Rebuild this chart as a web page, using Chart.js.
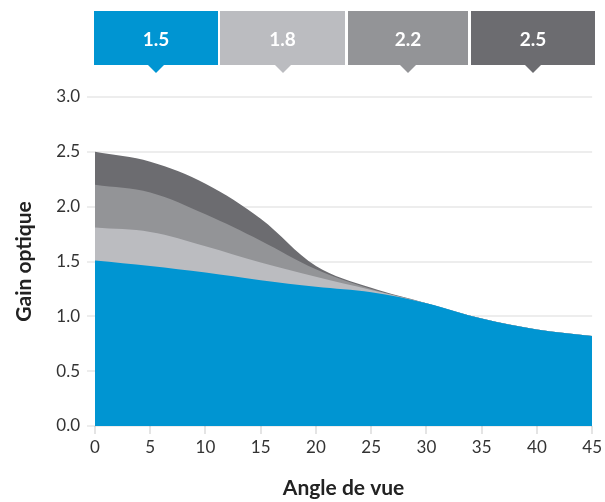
<!DOCTYPE html>
<html>
<head>
<meta charset="utf-8">
<script src="https://cdn.jsdelivr.net/npm/chart.js@4.4.1/dist/chart.umd.min.js"></script>
<style>
  html, body { margin: 0; padding: 0; background: #fff; }
  #wrap { position: relative; width: 605px; height: 502px; }
  #legend { position: absolute; left: 0; top: 0; width: 605px; height: 80px; }
  .lg {
    position: absolute; top: 11px; height: 54px;
    color: #fff; font: bold 19px Lato, sans-serif;
    display: flex; align-items: center; justify-content: center;
  }
  .lg .tri {
    position: absolute; left: 50%; bottom: -8px; margin-left: -8px;
    width: 0; height: 0;
    border-left: 8px solid transparent; border-right: 8px solid transparent;
    border-top: 8px solid;
  }
</style>
</head>
<body>
<div id="wrap">
  <canvas id="GainChart" width="605" height="502"></canvas>
  <div id="legend"></div>
</div>
<script>
// angles de vue (x)
var angles = [0, 5, 10, 15, 20, 25, 30, 35, 40, 45];

// gain optique par écran
var gain15 = [1.51, 1.46, 1.40, 1.33, 1.27, 1.22, 1.12, 0.98, 0.88, 0.82];
var gain18 = [1.81, 1.77, 1.64, 1.49, 1.36, 1.24, 1.12, 0.98, 0.88, 0.82];
var gain22 = [2.20, 2.13, 1.93, 1.69, 1.43, 1.25, 1.12, 0.98, 0.88, 0.82];
var gain25 = [2.50, 2.41, 2.21, 1.89, 1.46, 1.26, 1.12, 0.98, 0.88, 0.82];

var seriesNames = ['1.5', '1.8', '2.2', '2.5'];
var colors = ['#0095d2', '#bbbcc0', '#939497', '#6c6c70'];
var legendLeft = [94, 220, 348, 471];
var legendWidth = [124, 125, 120, 124];

function points(values) {
    return angles.map(function (a, i) {
        return { x: a, y: values[i] };
    });
}

var allValues = [gain15, gain18, gain22, gain25];

// legende en haut
var legend = document.getElementById('legend');
seriesNames.forEach(function (name, i) {
    var box = document.createElement('div');
    box.className = 'lg';
    box.style.left = legendLeft[i] + 'px';
    box.style.width = legendWidth[i] + 'px';
    box.style.background = colors[i];
    box.textContent = name;
    var tri = document.createElement('div');
    tri.className = 'tri';
    tri.style.borderTopColor = colors[i];
    box.appendChild(tri);
    legend.appendChild(box);
});

var GainChart = new Chart(
    document.getElementById('GainChart'), {
    type: 'line',
    data: {
        datasets: allValues.map(function (vals, i) {
            return {
                label: seriesNames[i],
                data: points(vals),
                fill: 'origin',
                backgroundColor: colors[i],
                borderColor: colors[i],
                borderWidth: 0,
                pointRadius: 0,
                tension: 0.35
            };
        })
    },
    options: {
        responsive: false,
        animation: false,
        layout: {
            padding: { top: 97, right: 11, left: 0, bottom: 0 }
        },
        plugins: {
            legend: { display: false },
            tooltip: { enabled: false }
        },
        scales: {
            x: {
                type: 'linear',
                min: 0,
                max: 45,
                border: { display: false },
                grid: {
                    drawOnChartArea: false,
                    drawTicks: true,
                    tickLength: 8,
                    color: '#e4e4e4',
                    lineWidth: 2
                },
                ticks: {
                    stepSize: 5,
                    padding: 3,
                    color: '#333',
                    font: { family: 'Lato', size: 17 }
                },
                title: {
                    display: true,
                    text: 'Angle de vue',
                    color: '#222',
                    font: { family: 'Lato', size: 21, weight: 'bold' },
                    padding: { top: 0, bottom: 1 }
                },
                afterFit: function (scale) {
                    scale.height = 76;
                }
            },
            y: {
                min: 0,
                max: 3,
                z: 1,
                border: { display: false },
                grid: {
                    color: 'rgba(0, 0, 0, 0.07)',
                    lineWidth: 2,
                    tickLength: 8
                },
                ticks: {
                    stepSize: 0.5,
                    padding: 7,
                    color: '#333',
                    font: { family: 'Lato', size: 17 },
                    callback: function (value) {
                        return value.toFixed(1);
                    }
                },
                title: {
                    display: true,
                    text: 'Gain optique',
                    color: '#222',
                    font: { family: 'Lato', size: 21, weight: 'bold' },
                    padding: { top: 12, bottom: 0 }
                },
                afterFit: function (scale) {
                    scale.width = 95;
                }
            }
        }
    }
});
</script>
</body>
</html>
